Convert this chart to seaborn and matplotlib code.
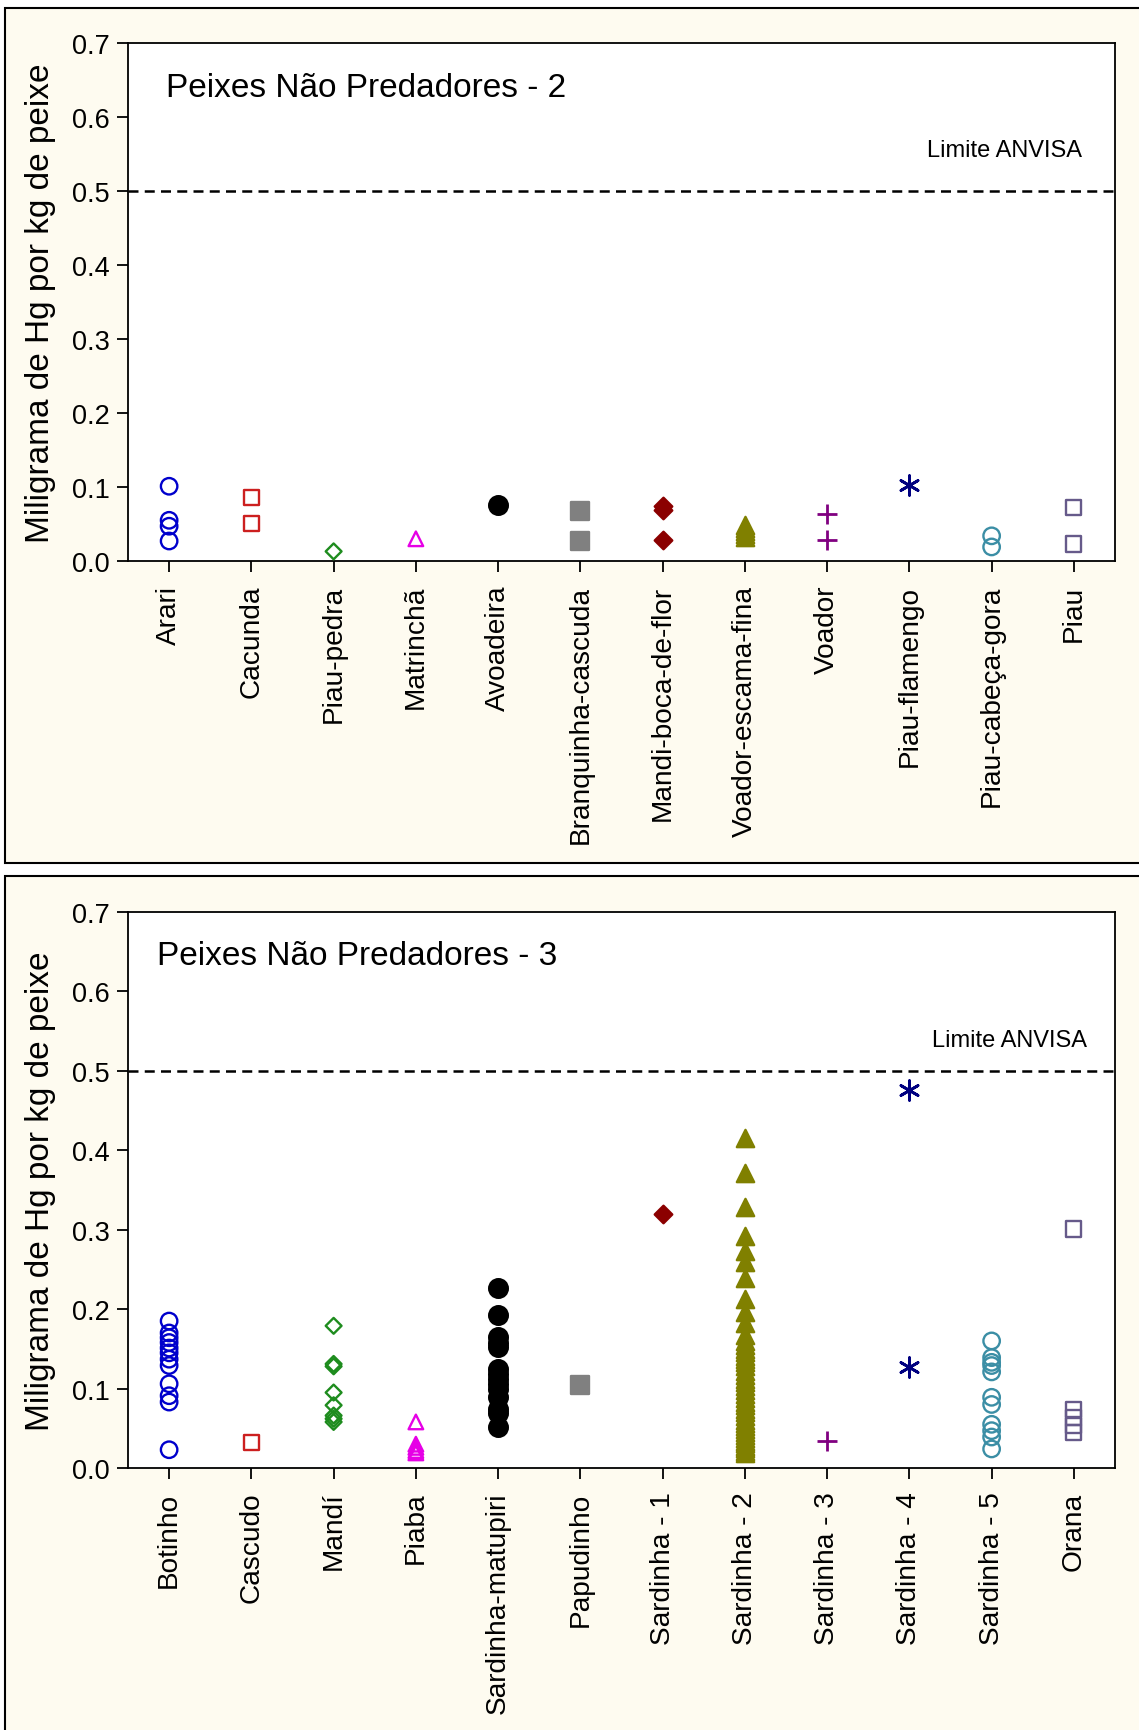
import matplotlib.pyplot as plt
from matplotlib.patches import Rectangle
import seaborn as sns
import pandas as pd

# Painel 2 - Peixes nao predadores
especies_2 = ["Arari", "Cacunda", "Piau-pedra", "Matrinchã", "Avoadeira",
              "Branquinha-cascuda", "Mandi-boca-de-flor", "Voador-escama-fina",
              "Voador", "Piau-flamengo", "Piau-cabeça-gora", "Piau"]
arari = [0.101, 0.055, 0.047, 0.027]
cacunda = [0.086, 0.051]
piau_pedra = [0.013]
matrincha = [0.030]
avoadeira = [0.076]
branquinha = [0.068, 0.027]
mandi_boca = [0.075, 0.069, 0.028]
voador_escama = [0.049, 0.044, 0.040, 0.036, 0.033]
voador = [0.064, 0.029]
piau_flamengo = [0.103]
piau_cabeca = [0.034, 0.019]
piau = [0.072, 0.023]
hg_2 = [arari, cacunda, piau_pedra, matrincha, avoadeira, branquinha,
        mandi_boca, voador_escama, voador, piau_flamengo, piau_cabeca, piau]

# Painel 3
especies_3 = ["Botinho", "Cascudo", "Mandí", "Piaba", "Sardinha-matupiri",
              "Papudinho", "Sardinha - 1", "Sardinha - 2", "Sardinha - 3",
              "Sardinha - 4", "Sardinha - 5", "Orana"]
botinho = [0.185, 0.170, 0.164, 0.158, 0.151, 0.145, 0.137, 0.129, 0.106,
           0.091, 0.083, 0.023]
cascudo = [0.032]
mandi = [0.179, 0.131, 0.128, 0.095, 0.079, 0.066, 0.062, 0.058]
piaba = [0.058, 0.030, 0.026, 0.022, 0.019]
sardinha_matupiri = [0.226, 0.193, 0.165, 0.158, 0.152, 0.125, 0.118, 0.112,
                     0.106, 0.100, 0.089, 0.074, 0.069, 0.052]
papudinho = [0.105]
sardinha_1 = [0.320]
sardinha_2 = [0.415, 0.372, 0.328, 0.292, 0.273, 0.259, 0.239, 0.213, 0.196,
              0.183, 0.167, 0.160, 0.155, 0.150, 0.146, 0.141, 0.137, 0.133,
              0.128, 0.122, 0.117, 0.112, 0.108, 0.103, 0.098, 0.093, 0.088,
              0.083, 0.079, 0.074, 0.070, 0.065, 0.061, 0.057, 0.053, 0.049,
              0.045, 0.041, 0.038, 0.034, 0.031, 0.028, 0.025, 0.022, 0.019]
sardinha_3 = [0.034]
sardinha_4 = [0.476, 0.127]
sardinha_5 = [0.160, 0.139, 0.133, 0.129, 0.121, 0.089, 0.080, 0.055, 0.047,
              0.039, 0.024]
orana = [0.301, 0.074, 0.064, 0.054, 0.045]
hg_3 = [botinho, cascudo, mandi, piaba, sardinha_matupiri, papudinho,
        sardinha_1, sardinha_2, sardinha_3, sardinha_4, sardinha_5, orana]

limite_anvisa = 0.5
yticks = [0.0, 0.1, 0.2, 0.3, 0.4, 0.5, 0.6, 0.7]

# marcador, cor, preenchido, tamanho
estilos = [
    ("o", "#0000CC", False, 140),
    ("s", "#CC1F1F", False, 120),
    ("D", "#1E8C1E", False, 65),
    ("^", "#E600E6", False, 110),
    ("o", "#000000", True, 180),
    ("s", "#808080", True, 155),
    ("D", "#8B0000", True, 80),
    ("^", "#808000", True, 155),
    ("+", "#800080", False, 200),
    ((6, 2, 0), "#000080", False, 200),
    ("o", "#3B8EA5", False, 140),
    ("s", "#665A8A", False, 120),
]

sns.set_theme(style="ticks")
plt.rcParams["font.family"] = ["Liberation Sans", "DejaVu Sans"]
plt.rcParams["text.color"] = "black"
plt.rcParams["axes.labelcolor"] = "black"

W, H = 1139, 1731
fig = plt.figure(figsize=(W / 100, H / 100), dpi=100, facecolor="white")
creme = "#FEFBF0"
fig.add_artist(Rectangle((5 / W, 1 - 864 / H), 1.05, 855 / H, transform=fig.transFigure,
                         facecolor=creme, edgecolor="black", lw=1.5, zorder=-1))
fig.add_artist(Rectangle((5 / W, -0.02), 1.05, 1 - 877 / H + 0.02, transform=fig.transFigure,
                         facecolor=creme, edgecolor="black", lw=1.5, zorder=-1))

ax1 = fig.add_axes([128 / W, 1 - 562 / H, 987 / W, 518 / H])
ax2 = fig.add_axes([128 / W, 1 - 1469 / H, 987 / W, 556 / H])


def painel(ax, especies, valores, titulo, tx, ty, lx, ly):
    ax.set_facecolor("white")
    for i, (nome, vals) in enumerate(zip(especies, valores)):
        marker, cor, cheio, tam = estilos[i]
        df = pd.DataFrame({"especie": [nome] * len(vals), "hg": vals})
        kws = dict(marker=marker, s=tam, color=cor, linewidth=1.7, zorder=3, clip_on=False)
        if cheio:
            kws["edgecolor"] = cor
        elif marker in ("o", "s", "D", "^"):
            kws["facecolor"] = "none"
            kws["edgecolor"] = cor
        else:
            kws["linewidth"] = 2.0
        sns.scatterplot(data=df, x="especie", y="hg", ax=ax, legend=False, **kws)

    ax.axhline(limite_anvisa, color="black", lw=1.8, ls=(0, (4, 2.5)), zorder=2)
    ax.text(lx, ly, "Limite ANVISA", transform=ax.get_yaxis_transform(),
            ha="right", va="center", fontsize=17)
    ax.text(tx, ty, titulo, transform=ax.transAxes, ha="left", va="center", fontsize=24)

    ax.set_xlim(-0.5, len(especies) - 0.5)
    ax.set_ylim(0, 0.7)
    ax.set_yticks(yticks)
    ax.set_yticklabels([f"{v:.1f}" for v in yticks])
    ax.set_xlabel("")
    ax.set_ylabel("Miligrama de Hg por kg de peixe", fontsize=24)
    ax.yaxis.set_label_coords(-0.073, 0.5)
    ax.tick_params(axis="both", direction="out", length=8, width=1.3,
                   labelsize=19.5, colors="black")
    ax.tick_params(axis="y", pad=5)
    ax.tick_params(axis="x", rotation=90, pad=9, labelsize=20.2)
    for sp in ax.spines.values():
        sp.set_color("black")
        sp.set_linewidth(1.3)


painel(ax1, especies_2, hg_2, "Peixes Não Predadores - 2", 0.0385, 0.915, 0.9666, 0.555)
painel(ax2, especies_3, hg_3, "Peixes Não Predadores - 3", 0.0294, 0.921, 0.9716, 0.539)

fig.savefig("out.png", dpi=100, facecolor="white")
